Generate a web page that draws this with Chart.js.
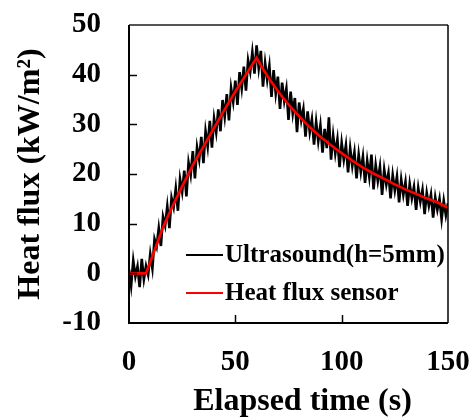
<!DOCTYPE html>
<html>
<head>
<meta charset="utf-8">
<script src="https://cdn.jsdelivr.net/npm/chart.js@4.4.0/dist/chart.umd.min.js"></script>
<style>
  html, body { margin: 0; padding: 0; background: #fff; }
  #wrap { width: 473px; height: 419px; }
</style>
</head>
<body>
<div id="wrap"><canvas id="heatChart"></canvas></div>
<script>
// ultrasound estimate, one sample per second from t = 0 s
var sampleStep = 1;
var ultrasoundFlux = [
  0.8, -2.5, 2.6, -0.6, 1.4, -2.8, 2.9, -1.2, 1.5, -0.3,
  3.9, 1.0, 6.9, 5.4, 9.1, 5.5, 11.4, 9.6, 13.5, 9.1,
  15.2, 13.3, 17.1, 12.6, 19.0, 16.4, 20.7, 15.5, 22.3, 19.8,
  24.6, 19.1, 25.4, 22.9, 27.5, 22.2, 28.6, 25.5, 30.7, 25.3,
  31.2, 28.4, 33.0, 28.6, 34.9, 31.5, 36.1, 30.8, 37.3, 34.5,
  38.8, 33.9, 40.5, 37.2, 41.6, 36.8, 42.9, 40.6, 44.5, 40.2,
  45.9, 41.3, 44.8, 37.6, 42.4, 38.9, 41.8, 35.5, 40.9, 36.2,
  39.6, 33.1, 38.4, 34.7, 37.2, 30.9, 36.6, 32.2, 35.3, 28.4,
  34.4, 30.8, 33.1, 27.5, 32.6, 28.4, 31.0, 25.9, 30.5, 26.6,
  29.8, 24.3, 29.1, 25.2, 31.4, 22.9, 27.8, 24.1, 27.0, 21.4,
  26.3, 22.9, 25.8, 20.3, 25.2, 21.6, 24.4, 19.1, 23.9, 20.4,
  23.5, 18.2, 22.7, 19.4, 23.9, 16.9, 21.8, 18.6, 21.5, 15.8,
  20.9, 17.9, 20.2, 15.1, 19.8, 16.7, 19.5, 14.3, 18.9, 15.8,
  18.4, 13.6, 18.0, 15.1, 17.4, 12.8, 17.2, 14.4, 16.8, 11.9,
  16.2, 13.6, 15.9, 11.2, 15.3, 12.8, 15.0, 10.9, 14.6, 11.7,
  14.1
];

// heat flux sensor (smooth red curve)
var sensorTime = [0, 8, 12, 16, 20, 25, 30, 35, 40, 45, 50, 55, 60,
  62.5, 65, 67.5, 70, 72.5, 75, 77.5, 80, 85, 90, 95, 100, 105, 110, 115, 120, 125, 130, 135, 140, 145, 150];
var sensorFlux = [0, 0, 4.6, 9.3, 13.1, 17.5, 21.8, 25.5, 29.3, 33.0, 36.6, 40.0, 43.4,
  41.5, 39.8, 38.2, 36.7, 35.3, 34.0, 32.8, 31.6, 29.4, 27.5, 25.8, 24.2, 22.7, 21.3, 20.1, 19.0, 17.9, 16.9, 16.0, 15.1, 14.3, 13.2];

var seriesNames = ['Ultrasound(h=5mm)', 'Heat flux sensor'];
var xTicks = [0, 50, 100, 150];
var yTicks = [-10, 0, 10, 20, 30, 40, 50];
var xTitle = 'Elapsed time (s)';
var yTitle = 'Heat flux (kW/m\u00B2)';

var serif = '"Liberation Serif", "Times New Roman", serif';

var usPoints = [];
for (var i = 0; i < ultrasoundFlux.length; i++) {
  usPoints.push({x: i * sampleStep, y: ultrasoundFlux[i]});
}
var sensorPoints = [];
for (var j = 0; j < sensorTime.length; j++) {
  sensorPoints.push({x: sensorTime[j], y: sensorFlux[j]});
}

var frameAndText = {
  id: 'frameAndText',
  afterDatasetsDraw: function(chart) {
    var ctx = chart.ctx, a = chart.chartArea;
    var xs = chart.scales.x, ys = chart.scales.y;
    ctx.save();
    // inward tick marks
    ctx.strokeStyle = '#000';
    ctx.lineWidth = 1.5;
    yTicks.forEach(function(v) {
      if (v === yTicks[0] || v === yTicks[yTicks.length - 1]) return;
      var py = Math.round(ys.getPixelForValue(v)) + 0.5;
      ctx.beginPath(); ctx.moveTo(a.left, py); ctx.lineTo(a.left + 8, py); ctx.stroke();
    });
    xTicks.forEach(function(v) {
      if (v === xTicks[0] || v === xTicks[xTicks.length - 1]) return;
      var px = Math.round(xs.getPixelForValue(v)) + 0.5;
      ctx.beginPath(); ctx.moveTo(px, a.bottom); ctx.lineTo(px, a.bottom - 8); ctx.stroke();
    });
    // plot frame
    ctx.lineWidth = 2;
    ctx.strokeStyle = '#555';
    ctx.beginPath(); ctx.moveTo(a.left, a.top); ctx.lineTo(a.right, a.top); ctx.stroke();
    ctx.strokeStyle = '#000';
    ctx.beginPath(); ctx.moveTo(a.left, a.top); ctx.lineTo(a.left, a.bottom); ctx.lineTo(a.right, a.bottom); ctx.stroke();
    ctx.lineWidth = 1.5;
    ctx.beginPath(); ctx.moveTo(a.right, a.top); ctx.lineTo(a.right, a.bottom); ctx.stroke();

    // legend
    var colors = ['#000000', '#ff0000'];
    var legY = [255, 293];
    ctx.font = 'bold 25px ' + serif;
    ctx.textBaseline = 'middle';
    ctx.textAlign = 'left';
    for (var k = 0; k < seriesNames.length; k++) {
      ctx.strokeStyle = colors[k];
      ctx.lineWidth = 2;
      ctx.beginPath(); ctx.moveTo(186, legY[k]); ctx.lineTo(223, legY[k]); ctx.stroke();
      ctx.fillStyle = '#000';
      ctx.fillText(seriesNames[k], 225, legY[k] + 1);
    }

    // axis titles
    ctx.font = 'bold 32px ' + serif;
    ctx.fillStyle = '#000';
    ctx.textAlign = 'center';
    ctx.textBaseline = 'alphabetic';
    ctx.fillText(xTitle, (a.left + a.right) / 2 + 14, 410);
    ctx.save();
    ctx.translate(39, (a.top + a.bottom) / 2);
    ctx.rotate(-Math.PI / 2);
    ctx.fillText(yTitle, 0, 0);
    ctx.restore();
    ctx.restore();
  }
};

var ctx = document.getElementById('heatChart');
var chart = new Chart(ctx, {
  type: 'line',
  data: {
    datasets: [
      {
        label: seriesNames[0],
        data: usPoints,
        borderColor: '#000000',
        borderWidth: 2.6,
        pointRadius: 0,
        tension: 0,
        order: 2
      },
      {
        label: seriesNames[1],
        data: sensorPoints,
        borderColor: '#ff0000',
        borderWidth: 2.6,
        pointRadius: 0,
        tension: 0,
        order: 1
      }
    ]
  },
  options: {
    responsive: true,
    maintainAspectRatio: false,
    animation: false,
    layout: { padding: { left: 0, top: 25, right: 25, bottom: 0 } },
    plugins: {
      legend: { display: false },
      tooltip: { enabled: false }
    },
    scales: {
      x: {
        type: 'linear',
        min: 0, max: 150,
        afterBuildTicks: function(s) { s.ticks = xTicks.map(function(v) { return {value: v}; }); },
        afterFit: function(s) { s.height = 96; s.paddingLeft = 0; s.paddingRight = 0; },
        grid: { display: false, drawTicks: false },
        border: { display: false },
        ticks: { color: '#000', padding: 22, maxRotation: 0, font: { family: serif, size: 29, weight: 'bold' } }
      },
      y: {
        type: 'linear',
        min: -10, max: 50,
        afterBuildTicks: function(s) { s.ticks = yTicks.map(function(v) { return {value: v}; }); },
        afterFit: function(s) { s.width = 129; s.paddingTop = 0; s.paddingBottom = 0; },
        grid: { display: false, drawTicks: false },
        border: { display: false },
        ticks: { color: '#000', padding: 28, font: { family: serif, size: 29, weight: 'bold' } }
      }
    }
  },
  plugins: [frameAndText]
});
</script>
</body>
</html>
